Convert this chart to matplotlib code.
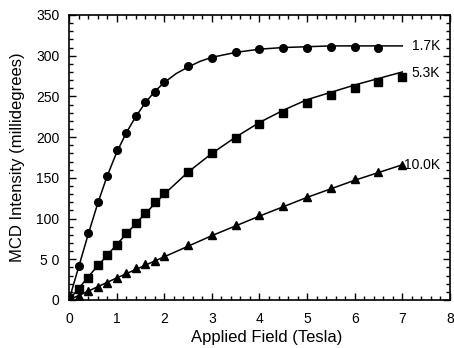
import numpy as np
import matplotlib
matplotlib.use("Agg")
from matplotlib import pyplot as plt
from matplotlib.ticker import MultipleLocator, FixedLocator

plt.rcParams['font.family'] = ['Liberation Sans', 'DejaVu Sans']

# measured points
x_17 = [0, 0.2, 0.4, 0.6, 0.8, 1.0, 1.2, 1.4, 1.6, 1.8, 2.0, 2.5, 3.0, 3.5, 4.0, 4.5, 5.0, 5.5, 6.0, 6.5]
y_17 = [0, 42, 82, 120, 152, 184, 205, 226, 243, 256, 268, 287, 297, 304, 308, 310, 310, 311, 311, 310]

x_53 = [0, 0.2, 0.4, 0.6, 0.8, 1.0, 1.2, 1.4, 1.6, 1.8, 2.0, 2.5, 3.0, 3.5, 4.0, 4.5, 5.0, 5.5, 6.0, 6.5, 7.0]
y_53 = [2, 14, 27, 43, 55, 68, 82, 95, 107, 120, 131, 157, 180, 199, 216, 230, 242, 252, 260, 268, 274]

x_10 = [0, 0.2, 0.4, 0.6, 0.8, 1.0, 1.2, 1.4, 1.6, 1.8, 2.0, 2.5, 3.0, 3.5, 4.0, 4.5, 5.0, 5.5, 6.0, 6.5, 7.0]
y_10 = [0, 4.5, 10.5, 16, 21, 27, 33, 39, 44, 48, 54, 68, 79.5, 92.5, 104, 116, 127, 137, 148, 157, 166]

# fitted curves
fx_17 = [0, 0.2, 0.4, 0.6, 0.8, 1.0, 1.2, 1.4, 1.6, 1.8, 2.0, 2.25, 2.5, 2.75, 3.0, 3.5, 4.0, 4.5, 5.0, 5.5, 6.0, 6.5, 7.0]
fy_17 = [0, 40, 80, 118, 152, 181, 205, 225, 242, 256, 267, 278, 286, 293, 298, 304, 308, 310, 311, 312, 312, 312, 312]

fx_53 = [0, 0.5, 1.0, 1.5, 2.0, 2.5, 3.0, 3.5, 4.0, 4.5, 5.0, 5.5, 6.0, 6.5, 7.0]
fy_53 = [0, 35, 68, 100, 130, 157, 180, 200, 218, 233, 246, 255, 264, 272, 280]

fx_10 = [0, 1, 2, 3, 4, 5, 6, 7]
fy_10 = [0, 27, 53, 79, 103, 126, 147, 166]

labels = ["1.7K", "5.3K", "10.0K"]
label_pos = [(7.2, 312), (7.2, 279), (7.04, 166)]

fig = plt.figure(figsize=(4.54, 3.48), dpi=100)
ax = fig.add_axes([0.152, 0.138, 0.839, 0.819])

ax.plot(fx_17, fy_17, color='black', lw=1.1)
ax.plot(fx_53, fy_53, color='black', lw=1.1)
ax.plot(fx_10, fy_10, color='black', lw=1.1)
ax.plot(x_17, y_17, 'o', color='black', ms=5.5)
ax.plot(x_53, y_53, 's', color='black', ms=5.5)
ax.plot(x_10, y_10, '^', color='black', ms=5.5)

for lab, (lx, ly) in zip(labels, label_pos):
    ax.text(lx, ly, lab, fontsize=10, va='center', ha='left')

ax.set_xlim(0, 8)
ax.set_ylim(0, 350)
ax.xaxis.set_major_locator(MultipleLocator(1))
ax.xaxis.set_minor_locator(MultipleLocator(0.2))
ax.yaxis.set_major_locator(FixedLocator([0, 50, 100, 150, 200, 250, 300, 350]))
ax.yaxis.set_minor_locator(MultipleLocator(10))
ax.set_yticklabels(["0", "5 0", "100", "150", "200", "250", "300", "350"])
ax.tick_params(which='both', direction='in', top=True, right=True, labelsize=10, width=1)
ax.tick_params(which='major', length=5)
ax.tick_params(which='minor', length=3)
ax.tick_params(axis='x', pad=9)
ax.tick_params(axis='y', pad=7)
for s in ax.spines.values():
    s.set_linewidth(1.2)

ax.set_xlabel("Applied Field (Tesla)", fontsize=12)
ax.xaxis.set_label_coords(0.52, -0.105)
ax.set_ylabel("MCD Intensity (millidegrees)", fontsize=12, labelpad=8)

fig.savefig("out.png", dpi=100)
